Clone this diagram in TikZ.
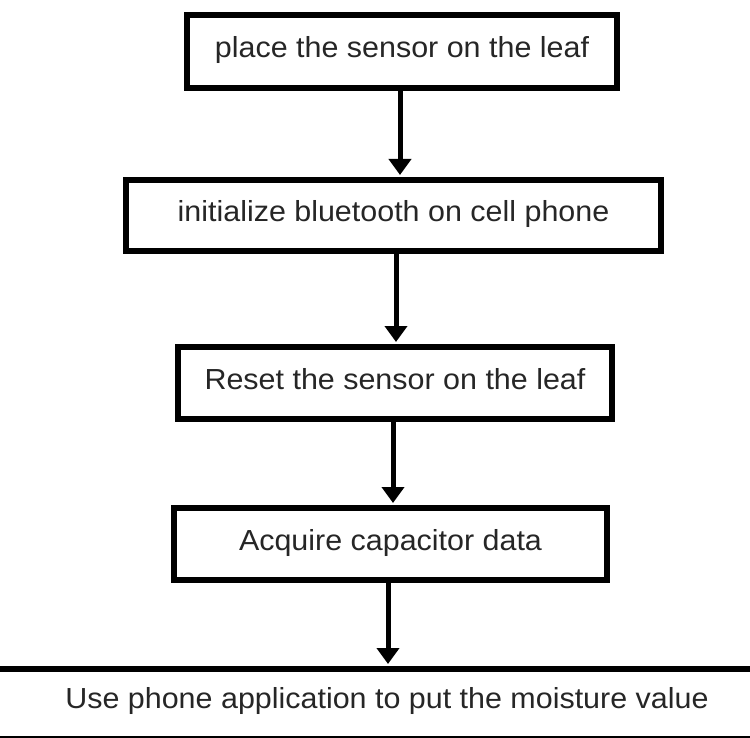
\documentclass[tikz,border=0pt]{standalone}
\usepackage{fontspec}
\setmainfont[FakeStretch=1.05]{Liberation Sans}
\usetikzlibrary{arrows.meta}
\begin{document}
\begin{tikzpicture}[x=1pt,y=-1pt,
  stepbox/.style={draw=black,line width=6pt,fill=white,inner sep=0pt,
    font=\fontsize{29}{34}\selectfont,text=black!85,text height=21pt,text depth=9pt},
  arr/.style={line width=5pt,-{Triangle[length=16pt,width=22pt]},shorten >=2pt}]
\useasboundingbox (0,0) rectangle (750,738);
\fill[white] (0,0) rectangle (750,738);
\clip (0,0) rectangle (750,738);
\node[stepbox,minimum width=430pt,minimum height=73pt] (b1) at (402,51.5) {place the sensor on the leaf};
\node[stepbox,minimum width=535pt,minimum height=71pt] (b2) at (393.5,215.5) {initialize bluetooth on cell phone};
\node[stepbox,minimum width=434pt,minimum height=72pt] (b3) at (395,383) {Reset the sensor on the leaf};
\node[stepbox,minimum width=433pt,minimum height=72pt] (b4) at (390.5,544) {Acquire capacitor data};
\node[stepbox,minimum width=790pt,minimum height=70pt,text depth=13pt] (b5) at (387,704) {Use phone application to put the moisture value};
\draw[arr] ([xshift=-2pt]b1.south) -- ([xshift=-2pt]b1.south |- b2.north);
\draw[arr] ([xshift=2.5pt]b2.south) -- ([xshift=2.5pt]b2.south |- b3.north);
\draw[arr] ([xshift=-2pt]b3.south) -- ([xshift=-2pt]b3.south |- b4.north);
\draw[arr] ([xshift=-2.5pt]b4.south) -- ([xshift=-2.5pt]b4.south |- b5.north);
\end{tikzpicture}
\end{document}
